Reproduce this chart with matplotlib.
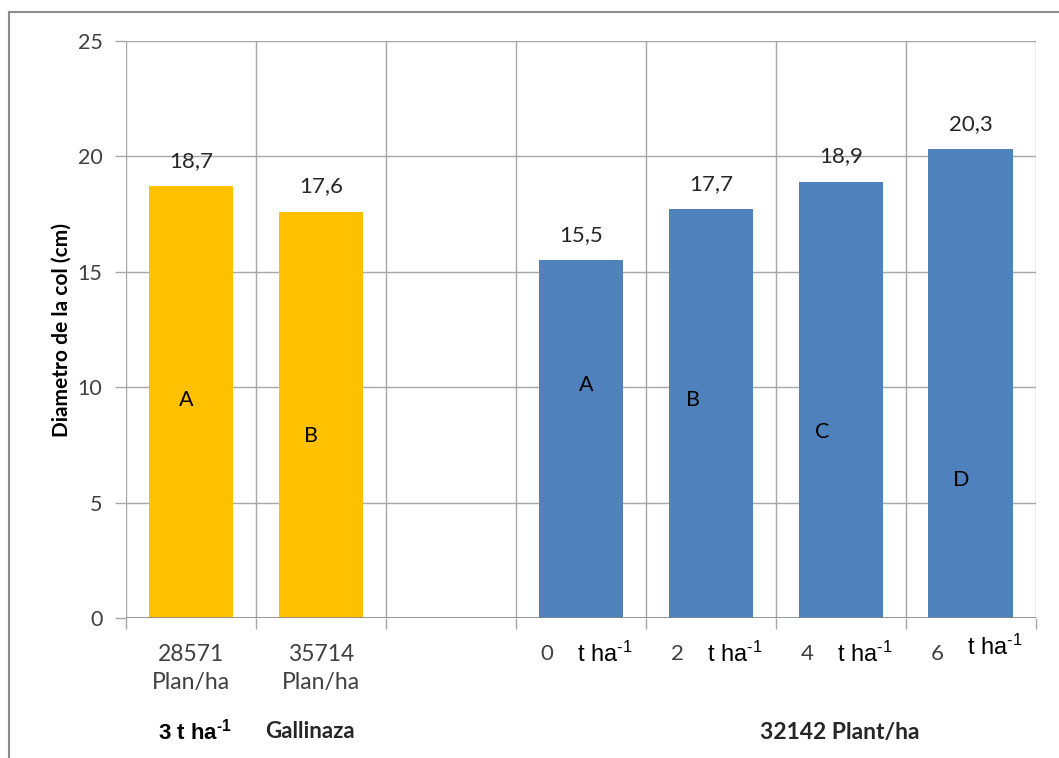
import numpy as np
import matplotlib
matplotlib.use("Agg")
import matplotlib.pyplot as plt
from matplotlib.lines import Line2D
from matplotlib.transforms import blended_transform_factory

plt.rcParams['font.family'] = ['Lato', 'DejaVu Sans']
plt.rcParams['mathtext.default'] = 'regular'

# diametro de la col por tratamiento
gallinaza_labels = ['28571\nPlan/ha', '35714\nPlan/ha']
gallinaza_vals = [18.7, 17.6]
gallinaza_letras = ['A', 'B']

dosis = ['0', '2', '4', '6']
dosis_vals = [15.5, 17.7, 18.9, 20.3]
dosis_letras = ['A', 'B', 'C', 'D']

gold = '#FFC000'
blue = '#4F81BD'
grid_c = '#A6A6A6'
txt_c = '#404040'
sup = '$^{' + '\u2010' + '1}$'

fig = plt.figure(figsize=(10.59, 7.58), dpi=100)
ax = fig.add_axes([0.119, 0.1847, 0.859, 0.7612])

x_g = np.array([0, 1])
x_d = np.array([3, 4, 5, 6])
w = 0.65
ax.bar(x_g, gallinaza_vals, width=w, color=gold, zorder=3)
ax.bar(x_d, dosis_vals, width=w, color=blue, zorder=3)

ax.set_xlim(-0.5, 6.5)
ax.set_ylim(0, 25)

# rejilla
ax.set_yticks(np.arange(0, 26, 5))
ax.set_xticks(np.arange(-0.5, 7, 1))
ax.set_xticklabels([])
ax.grid(True, color=grid_c, lw=1.0, zorder=0)
for s in ax.spines.values():
    s.set_visible(False)
ax.axhline(0, color='#868686', lw=1.2, zorder=4)
ax.tick_params(axis='both', length=8, color=grid_c, width=1)
ax.tick_params(axis='y', labelsize=15.5, labelcolor=txt_c, pad=9)

ax.set_ylabel('Diametro de la col (cm)', fontsize=15, fontweight='bold', labelpad=4)

# valores sobre las barras
for xi, v in zip(list(x_g) + list(x_d), gallinaza_vals + dosis_vals):
    ax.annotate(f'{v:.1f}'.replace('.', ','), (xi, v), xytext=(0, 11),
                textcoords='offset points', ha='center', va='bottom',
                fontsize=16, color='#262626')

# letras dentro de las barras
letra_pos_g = [(-0.04, 9.45), (0.92, 7.9)]
letra_pos_d = [(3.04, 10.1), (3.86, 9.45), (4.86, 8.05), (5.93, 6.0)]
for (px, py), l in zip(letra_pos_g + letra_pos_d, gallinaza_letras + dosis_letras):
    ax.text(px, py, l, ha='center', va='center', fontsize=15.5, color='black', zorder=5)

# etiquetas del eje x
tr = blended_transform_factory(ax.transData, ax.transAxes)
for xi, lab in zip(x_g, gallinaza_labels):
    ax.text(xi, -0.045, lab, transform=tr, ha='center', va='top', fontsize=16.5,
            color=txt_c, linespacing=1.4)
for i, (xi, d) in enumerate(zip(x_d, dosis)):
    dy = 0.012 if i == 3 else 0
    ax.text(xi - 0.26, -0.063, d, transform=tr, ha='center', va='center',
            fontsize=16, color=txt_c)
    ax.text(xi - 0.03, -0.063 + dy, 't ha' + sup, transform=tr, ha='left',
            va='center', fontsize=17, color='black', family='Liberation Sans')

# rotulos de grupo
yb = 1 - 732 / 758
fig.text(158 / 1059, yb, '3 t ha' + sup, fontsize=16, fontweight='bold',
         family='Liberation Sans', ha='left', va='center')
fig.text(265 / 1059, yb, 'Gallinaza', fontsize=16, fontweight='bold',
         ha='left', va='center', color='#262626')
fig.text(840 / 1059, yb, '32142 Plant/ha', fontsize=16.5, fontweight='bold',
         ha='center', va='center', color='#262626')

# marco exterior
fig.add_artist(Line2D([9 / 1059, 9 / 1059], [0, 1 - 12 / 758], transform=fig.transFigure,
                      color='#8C8C8C', lw=1.5))
fig.add_artist(Line2D([9 / 1059, 1], [1 - 12 / 758, 1 - 12 / 758], transform=fig.transFigure,
                      color='#8C8C8C', lw=1.5))

fig.savefig('out.png', dpi=100)
